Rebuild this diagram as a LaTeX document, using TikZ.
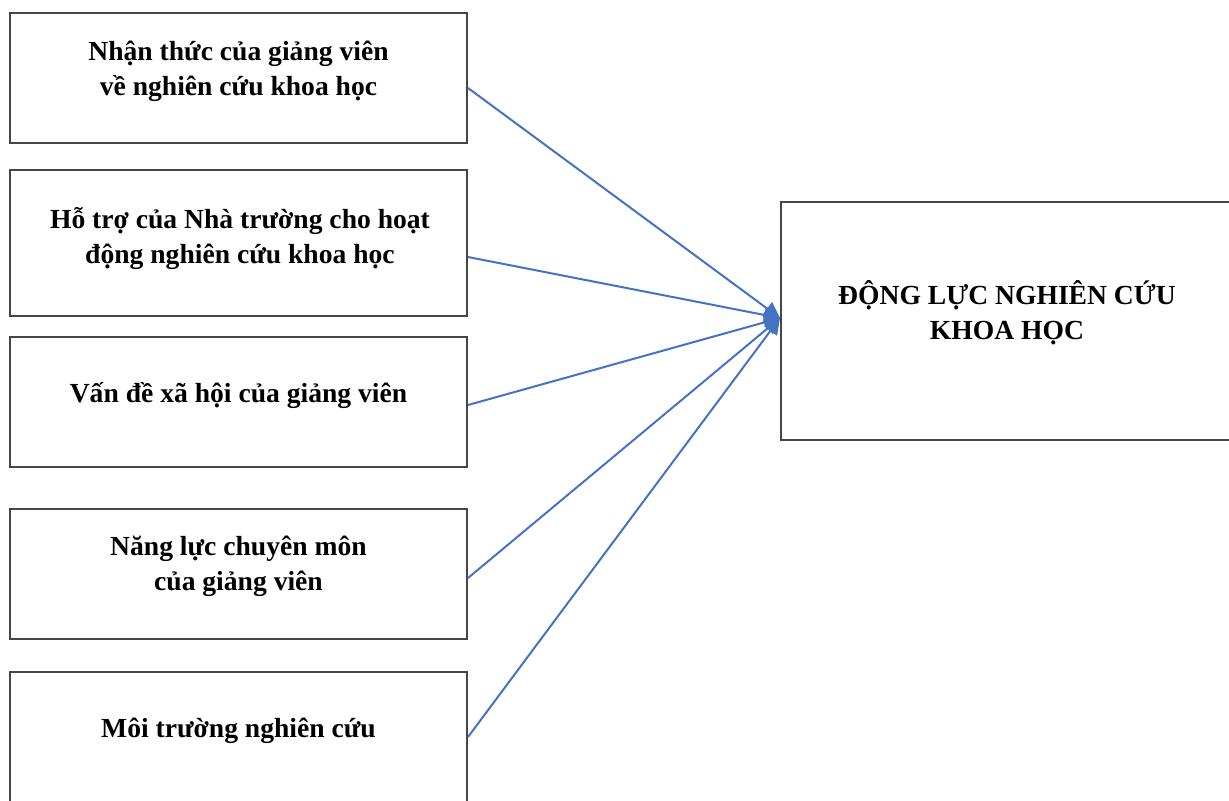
\documentclass[tikz,border=0pt]{standalone}
\usepackage{fontspec}
\setmainfont{Liberation Serif}
\usetikzlibrary{arrows.meta, positioning, calc}
\definecolor{LinkBlue}{RGB}{68,114,196}
\definecolor{BoxGray}{RGB}{70,70,70}

\begin{document}
\begin{tikzpicture}[
        x=0.5pt, y=-0.5pt,
        factor/.style={rectangle,draw=BoxGray,line width=1pt,fill=white,
                       minimum width=228.5pt,minimum height=65pt,inner sep=0pt},
        target/.style={rectangle,draw=BoxGray,line width=1pt,fill=white,
                       minimum width=225.5pt,minimum height=119pt,inner sep=0pt},
        txt/.style={font=\fontsize{13.8}{17.5}\selectfont\bfseries,align=center,inner sep=0pt},
        arr/.style={-{Triangle[length=8pt,width=8pt]},LinkBlue,line width=1pt}
      ]
        \useasboundingbox (0,0) rectangle (1229,800);
        \clip (0,0) rectangle (1229,800);

        % left factors
        \node[factor] (nhanthuc) at (238.5,77.5){};
        \node[factor,minimum height=73pt] (hotro) at (238.5,243){};
        \node[factor] (xahoi) at (238.5,402){};
        \node[factor] (nangluc) at (238.5,574){};
        \node[factor] (moitruong) at (238.5,737){};
        % right box
        \node[target] (dongluc) at (1006.5,321){};

        \node[txt] (t1) at (238.5,71){Nhận thức của giảng viên\\về nghiên cứu khoa học};
        \node[txt] (t2) at (240,239){Hỗ trợ của Nhà trường cho hoạt\\động nghiên cứu khoa học};
        \node[txt] (t3) at (238.5,395){Vấn đề xã hội của giảng viên};
        \node[txt] (t4) at (238.5,566){Năng lực chuyên môn\\của giảng viên};
        \node[txt] (t5) at (238.5,731){Môi trường nghiên cứu};
        \node[txt] (tr) at (1007,313){ĐỘNG LỰC NGHIÊN CỨU\\KHOA HỌC};

        \coordinate (hub) at ([yshift=1.5pt]dongluc.west);

        \draw[arr]([yshift=-5.25pt]nhanthuc.east)--(hub);
        \draw[arr]([yshift=-7pt]hotro.east)--(hub);
        \draw[arr]([yshift=-1.5pt]xahoi.east)--(hub);
        \draw[arr]([yshift=-2pt]nangluc.east)--(hub);
        \draw[arr](moitruong.east)--(hub);
      \end{tikzpicture}
\end{document}
